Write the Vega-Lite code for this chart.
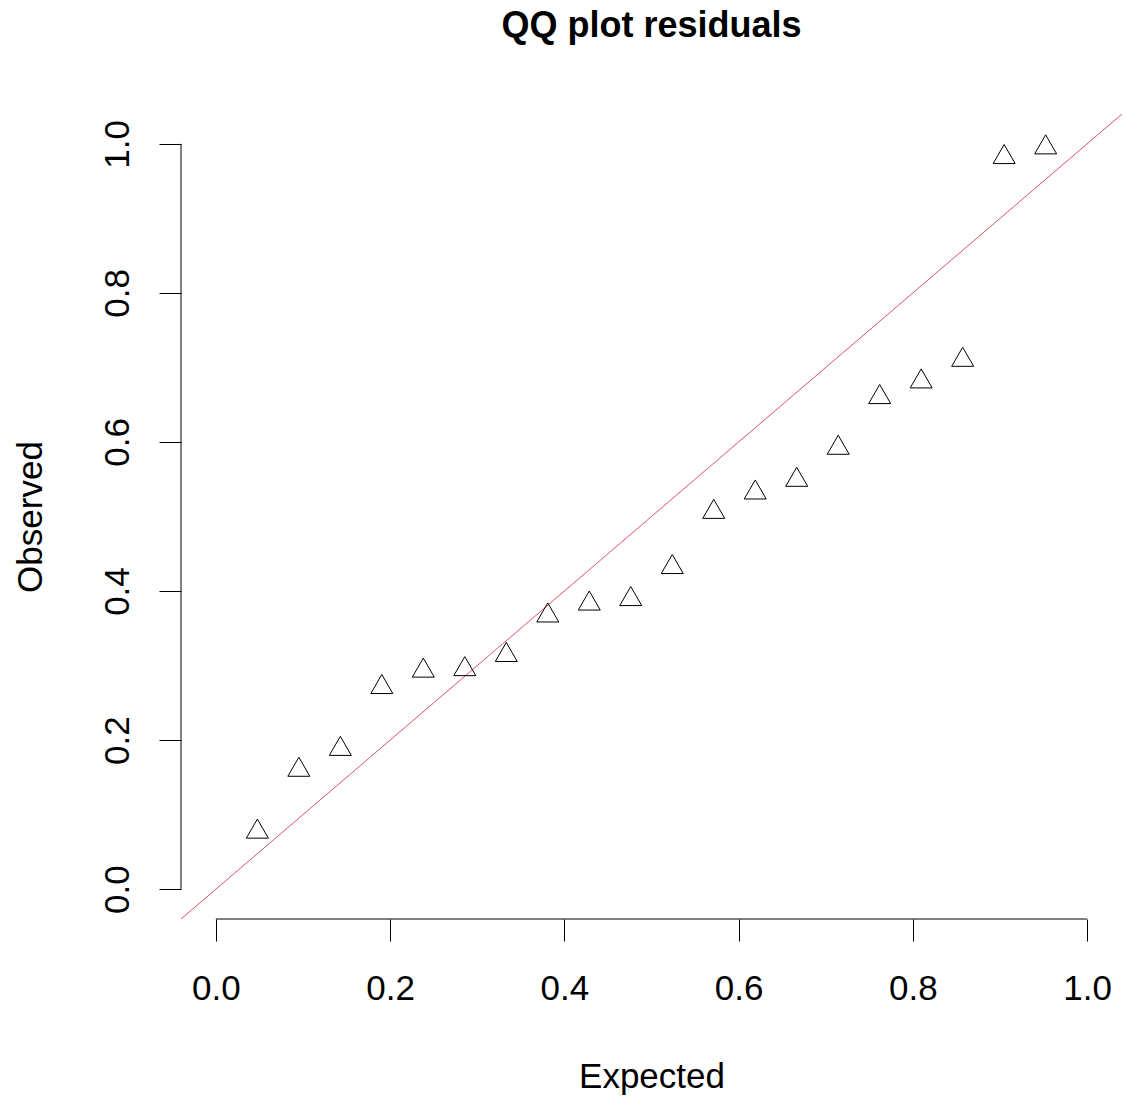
{
  "$schema": "https://vega.github.io/schema/vega-lite/v6.json",
  "width": 941,
  "height": 805,
  "autosize": {"type": "none"},
  "padding": {"left": 181, "top": 114, "right": 5, "bottom": 182},
  "background": "white",
  "config": {"view": {"stroke": null}, "font": "Liberation Sans"},
  "title": {
    "text": "QQ plot residuals",
    "font": "Liberation Sans",
    "fontSize": 36,
    "fontWeight": "bold",
    "color": "black",
    "anchor": "middle",
    "frame": "group",
    "baseline": "alphabetic",
    "offset": 41
  },
  "encoding": {
    "x": {
      "field": "x",
      "type": "quantitative",
      "scale": {"domain": [-0.04, 1.04], "nice": false, "zero": false},
      "axis": {
        "title": "Expected",
        "values": [0, 0.2, 0.4, 0.6, 0.8, 1.0],
        "format": ".1f",
        "grid": false,
        "domain": false,
        "ticks": true,
        "tickSize": 22,
        "tickColor": "black",
        "tickWidth": 1,
        "labelFont": "Liberation Sans",
        "labelFontSize": 35,
        "labelColor": "black",
        "labelPadding": 30,
        "labelFlush": false,
        "labelOverlap": false,
        "titleFont": "Liberation Sans",
        "titleFontSize": 35,
        "titleFontWeight": "normal",
        "titleColor": "black",
        "titleBaseline": "alphabetic",
        "titleY": 168
      }
    },
    "y": {
      "field": "y",
      "type": "quantitative",
      "scale": {"domain": [-0.04, 1.04], "nice": false, "zero": false},
      "axis": {
        "title": "Observed",
        "values": [0, 0.2, 0.4, 0.6, 0.8, 1.0],
        "format": ".1f",
        "grid": false,
        "domain": false,
        "ticks": true,
        "tickSize": 22,
        "tickColor": "black",
        "tickWidth": 1,
        "labelFont": "Liberation Sans",
        "labelFontSize": 35,
        "labelColor": "black",
        "labelAngle": 270,
        "labelAlign": "center",
        "labelBaseline": "alphabetic",
        "labelPadding": 31,
        "labelFlush": false,
        "labelOverlap": false,
        "titleFont": "Liberation Sans",
        "titleFontSize": 35,
        "titleFontWeight": "normal",
        "titleColor": "black",
        "titleAngle": 270,
        "titleAlign": "center",
        "titleBaseline": "alphabetic",
        "titleX": -140
      }
    }
  },
  "layer": [
    {
      "data": {"values": [{"x": -0.04, "y": -0.04}, {"x": 1.04, "y": 1.04}]},
      "mark": {"type": "line", "color": "#DF536B", "strokeWidth": 1, "clip": true}
    },
    {
      "data": {"values": [
        {"x": 0, "x2": 1, "y": -0.04, "y2": -0.04},
        {"x": -0.04, "x2": -0.04, "y": 0, "y2": 1}
      ]},
      "mark": {"type": "rule", "color": "black", "strokeWidth": 1},
      "encoding": {
        "x2": {"field": "x2"},
        "y2": {"field": "y2"}
      }
    },
    {
      "data": {"values": [
        {"x": 0.047619, "y": 0.077},
        {"x": 0.095238, "y": 0.160},
        {"x": 0.142857, "y": 0.188},
        {"x": 0.190476, "y": 0.271},
        {"x": 0.238095, "y": 0.293},
        {"x": 0.285714, "y": 0.295},
        {"x": 0.333333, "y": 0.314},
        {"x": 0.380952, "y": 0.367},
        {"x": 0.428571, "y": 0.383},
        {"x": 0.476190, "y": 0.389},
        {"x": 0.523810, "y": 0.432},
        {"x": 0.571429, "y": 0.506},
        {"x": 0.619048, "y": 0.532},
        {"x": 0.666667, "y": 0.549},
        {"x": 0.714286, "y": 0.592},
        {"x": 0.761905, "y": 0.660},
        {"x": 0.809524, "y": 0.681},
        {"x": 0.857143, "y": 0.710},
        {"x": 0.904762, "y": 0.982},
        {"x": 0.952381, "y": 0.995}
      ]},
      "mark": {
        "type": "point",
        "shape": "M0,-1.155L-1,0.577L1,0.577Z",
        "size": 484,
        "filled": false,
        "stroke": "black",
        "strokeWidth": 1,
        "opacity": 1
      }
    }
  ]
}
